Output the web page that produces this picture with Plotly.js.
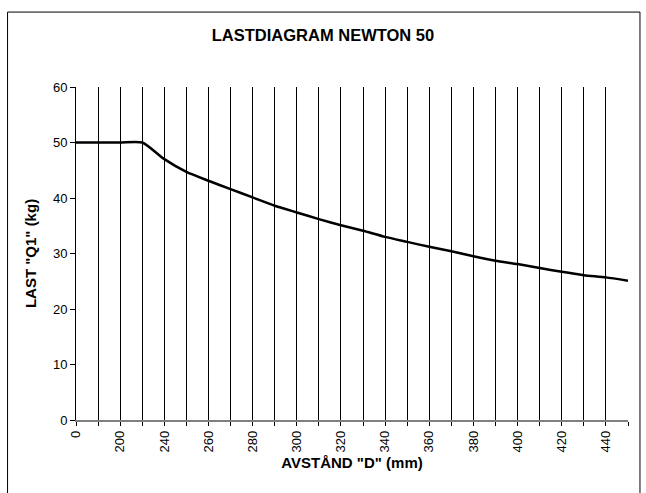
<!DOCTYPE html>
<html>
<head>
<meta charset="utf-8">
<script src="https://cdn.plot.ly/plotly-3.0.1.min.js"></script>
<style>
  html, body { margin: 0; padding: 0; background: #fff; }
  #chart { width: 646px; height: 493px; }
</style>
</head>
<body>
<div id="chart"></div>
<script>
// Distance categories (mm) and load values (kg)
const distances = ["0", "100", "200", "220", "240", "250", "260", "270", "280", "290",
                   "300", "310", "320", "330", "340", "350", "360", "370", "380", "390",
                   "400", "410", "420", "430", "440", "450"];
const loadKg = [50, 50, 50, 50, 47, 44.7, 43.1, 41.6, 40.1, 38.6,
                37.4, 36.2, 35.1, 34.1, 33.0, 32.1, 31.2, 30.4, 29.5, 28.7,
                28.1, 27.4, 26.7, 26.1, 25.7, 25.1];
// Every second category is labelled
const tickText = distances.map((d, i) => (i % 2 === 0 ? d : ""));

const font = "Liberation Sans, Arial, sans-serif";

const trace = {
  x: distances,
  y: loadKg,
  type: "scatter",
  mode: "lines",
  line: { color: "#000000", width: 2.5, shape: "spline", smoothing: 0.6 },
  hoverinfo: "skip"
};

const layout = {
  width: 646,
  height: 493,
  margin: { l: 76, r: 18, t: 87, b: 73 },
  paper_bgcolor: "#ffffff",
  plot_bgcolor: "#ffffff",
  showlegend: false,
  font: { family: font, color: "#000000", size: 13 },
  title: {
    text: "<b>LASTDIAGRAM NEWTON 50</b>",
    font: { family: font, size: 16.5, color: "#000000" },
    x: 0.5, xref: "container", xanchor: "center",
    y: 0.929, yref: "container", yanchor: "middle"
  },
  xaxis: {
    type: "category",
    categoryorder: "array",
    categoryarray: distances,
    range: [0, distances.length - 1],
    tickmode: "array",
    tickvals: distances,
    ticktext: tickText,
    tickangle: -90,
    ticks: "outside",
    ticklen: 4,
    tickcolor: "#000000",
    tickfont: { family: font, size: 13, color: "#000000" },
    showgrid: true,
    gridcolor: "#000000",
    gridwidth: 1,
    showline: true,
    linecolor: "#808080",
    linewidth: 1.5,
    zeroline: false,
    title: { text: "<b>AVSTÅND \"D\" (mm)</b>", font: { family: font, size: 15, color: "#000000" }, standoff: 6 },
    fixedrange: true
  },
  yaxis: {
    range: [0, 60],
    dtick: 10,
    tick0: 0,
    ticks: "outside",
    ticklen: 5,
    tickcolor: "#000000",
    tickfont: { family: font, size: 13, color: "#000000" },
    showgrid: false,
    showline: true,
    linecolor: "#000000",
    linewidth: 1,
    zeroline: false,
    title: { text: "<b>LAST \"Q1\" (kg)</b>", font: { family: font, size: 15, color: "#000000" }, standoff: 12 },
    fixedrange: true
  },
  shapes: [{
    type: "rect",
    xref: "paper", yref: "paper",
    x0: -0.124, x1: 1.0217,
    y0: -0.3, y1: 1.225,
    line: { color: "#000000", width: 1 },
    fillcolor: "rgba(0,0,0,0)",
    layer: "below"
  }]
};

Plotly.newPlot("chart", [trace], layout, { displayModeBar: false, staticPlot: true });
</script>
</body>
</html>
